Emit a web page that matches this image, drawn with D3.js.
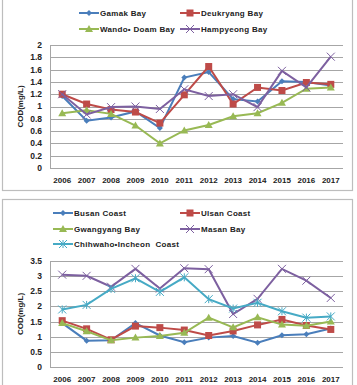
<!DOCTYPE html>
<html>
<head>
<meta charset="utf-8">
<script src="https://cdn.jsdelivr.net/npm/d3@7"></script>
<style>
  body { margin: 0; background: #fff; }
  text { font-family: "Liberation Sans", Arial, sans-serif; font-weight: bold; fill: #222; white-space: pre; }
</style>
</head>
<body>
<script>
(function (d3) {
  "use strict";

  /***** Data *****/
  var years = ["2006", "2007", "2008", "2009", "2010", "2011", "2012", "2013", "2014", "2015", "2016", "2017"];

  var gamakBay     = [1.17, 0.77, 0.82, 0.92, 0.65, 1.47, 1.56, 1.12, 1.08, 1.41, 1.40, 1.34];
  var deukryangBay = [1.20, 1.04, 0.95, 0.91, 0.73, 1.19, 1.65, 1.04, 1.31, 1.26, 1.39, 1.36];
  var wandoDoamBay = [0.89, 0.94, 0.88, 0.69, 0.40, 0.61, 0.70, 0.84, 0.89, 1.06, 1.29, 1.31];
  var hampyeongBay = [1.20, 0.87, 0.99, 1.00, 0.96, 1.28, 1.17, 1.20, 0.99, 1.58, 1.31, 1.81];

  var busanCoast     = [1.45, 0.87, 0.88, 1.45, 1.04, 0.82, 0.97, 1.02, 0.80, 1.05, 1.08, 1.27];
  var ulsanCoast     = [1.53, 1.26, 0.90, 1.35, 1.30, 1.22, 1.04, 1.19, 1.39, 1.57, 1.37, 1.24];
  var gwangyangBay   = [1.45, 1.18, 0.88, 0.97, 1.02, 1.13, 1.63, 1.31, 1.64, 1.40, 1.36, 1.50];
  var masanBay       = [3.05, 3.01, 2.65, 3.24, 2.59, 3.26, 3.23, 1.75, 2.25, 3.24, 2.85, 2.28];
  var chihwahoCoast  = [1.90, 2.05, 2.58, 2.93, 2.48, 2.96, 2.24, 1.93, 2.12, 1.84, 1.63, 1.67];

  var topTicks = [0, 0.2, 0.4, 0.6, 0.8, 1, 1.2, 1.4, 1.6, 1.8, 2];
  var bottomTicks = [0, 0.5, 1, 1.5, 2, 2.5, 3, 3.5];

  /***** Colours *****/
  var blue = "#4a7ebb", red = "#be4b48", green = "#98b954", purple = "#7d60a0", cyan = "#46aac5";

  var svg = d3.select("body").append("svg")
      .attr("width", 357)
      .attr("height", 385);

  function drawMarker(g, type, color) {
    if (type === "diamond") {
      g.append("path").attr("d", "M0,-3L3,0L0,3L-3,0Z").attr("fill", color);
    } else if (type === "square") {
      g.append("rect").attr("x", -3.5).attr("y", -3.5).attr("width", 7).attr("height", 7).attr("fill", color);
    } else if (type === "triangle") {
      g.append("path").attr("d", "M0,-4L4,3L-4,3Z").attr("fill", color);
    } else if (type === "x") {
      g.append("path").attr("d", "M-4,-4L4,4M-4,4L4,-4").attr("stroke", color).attr("stroke-width", 1);
    } else if (type === "star") {
      g.append("path").attr("d", "M-4,-4L4,4M-4,4L4,-4M0,-4L0,4").attr("stroke", color).attr("stroke-width", 1);
    }
  }

  function drawPanel(cfg) {
    var panel = svg.append("g");

    // border
    panel.append("rect")
        .attr("x", 2.5).attr("y", cfg.boxTop + 0.5)
        .attr("width", 350).attr("height", cfg.boxHeight)
        .attr("fill", "#fff").attr("stroke", "#bdbdbd").attr("stroke-width", 1.2);

    var xScale = d3.scaleBand().domain(years).range([50, 343]);
    var yScale = d3.scaleLinear().domain([0, cfg.max]).range([cfg.bottom, cfg.top]);

    // grid
    panel.append("g").selectAll("line")
        .data(cfg.ticks.slice(1))
        .join("line")
        .attr("x1", 50).attr("x2", 343)
        .attr("y1", function (d) { return Math.round(yScale(d)) + 0.5; })
        .attr("y2", function (d) { return Math.round(yScale(d)) + 0.5; })
        .attr("stroke", "#a6a6a6").attr("stroke-width", 1);

    panel.append("line")
        .attr("x1", 50).attr("x2", 343)
        .attr("y1", Math.round(yScale(0)) + 0.5).attr("y2", Math.round(yScale(0)) + 0.5)
        .attr("stroke", "#a6a6a6");
    panel.append("line")
        .attr("x1", 50.5).attr("x2", 50.5)
        .attr("y1", yScale(cfg.max)).attr("y2", yScale(0))
        .attr("stroke", "#a6a6a6");

    // y tick labels
    panel.append("g").selectAll("text")
        .data(cfg.ticks)
        .join("text")
        .attr("x", 42)
        .attr("y", function (d) { return yScale(d); })
        .attr("dy", "0.35em")
        .attr("text-anchor", "end")
        .attr("font-size", 8.5)
        .text(function (d) { return d; });

    // x tick labels
    panel.append("g").selectAll("text")
        .data(years)
        .join("text")
        .attr("x", function (d) { return xScale(d) + xScale.bandwidth() / 2; })
        .attr("y", cfg.bottom + 15)
        .attr("text-anchor", "middle")
        .attr("font-size", 8)
        .text(function (d) { return d; });

    // y axis title
    panel.append("text")
        .attr("transform", "translate(23," + ((cfg.top + cfg.bottom) / 2) + ") rotate(-90)")
        .attr("text-anchor", "middle")
        .attr("font-size", 8)
        .text("COD(mg/L)");

    var line = d3.line()
        .x(function (d, i) { return xScale(years[i]) + xScale.bandwidth() / 2; })
        .y(function (d) { return yScale(d); });

    cfg.series.forEach(function (s) {
      panel.append("path")
          .datum(s.values)
          .attr("d", line)
          .attr("fill", "none")
          .attr("stroke", s.color)
          .attr("stroke-width", 2);
      s.values.forEach(function (v, i) {
        var m = panel.append("g")
            .attr("transform", "translate(" + (xScale(years[i]) + xScale.bandwidth() / 2) + "," + yScale(v) + ")");
        drawMarker(m, s.marker, s.color);
      });
    });

    // legend
    cfg.series.forEach(function (s) {
      var lg = panel.append("g").attr("transform", "translate(" + s.lx + "," + s.ly + ")");
      lg.append("line").attr("x1", 0).attr("x2", 20).attr("y1", 0).attr("y2", 0)
          .attr("stroke", s.color).attr("stroke-width", 2);
      var m = lg.append("g").attr("transform", "translate(10,0)");
      drawMarker(m, s.marker, s.color);
      lg.append("text")
          .attr("x", 21).attr("y", 0).attr("dy", "0.35em")
          .attr("font-size", 8)
          .attr("xml:space", "preserve")
          .style("letter-spacing", "0.3px")
          .text(s.name);
    });
  }

  drawPanel({
    boxTop: -2, boxHeight: 192,
    max: 2, top: 45, bottom: 168,
    ticks: topTicks,
    series: [
      { name: "Gamak Bay", values: gamakBay, color: blue, marker: "diamond", lx: 79, ly: 13 },
      { name: "Deukryang Bay", values: deukryangBay, color: red, marker: "square", lx: 180, ly: 13 },
      { name: "Wando\u2022 Doam Bay", values: wandoDoamBay, color: green, marker: "triangle", lx: 79, ly: 29 },
      { name: "Hampyeong Bay", values: hampyeongBay, color: purple, marker: "x", lx: 180, ly: 29 }
    ]
  });

  drawPanel({
    boxTop: 199, boxHeight: 200,
    max: 3.5, top: 261, bottom: 367,
    ticks: bottomTicks,
    series: [
      { name: "Busan Coast", values: busanCoast, color: blue, marker: "diamond", lx: 53, ly: 213 },
      { name: "Ulsan Coast", values: ulsanCoast, color: red, marker: "square", lx: 180, ly: 213 },
      { name: "Gwangyang Bay", values: gwangyangBay, color: green, marker: "triangle", lx: 53, ly: 229 },
      { name: "Masan Bay", values: masanBay, color: purple, marker: "x", lx: 180, ly: 229 },
      { name: "Chihwaho\u2022Incheon  Coast", values: chihwahoCoast, color: cyan, marker: "star", lx: 53, ly: 244 }
    ]
  });

})(d3);
</script>
</body>
</html>
